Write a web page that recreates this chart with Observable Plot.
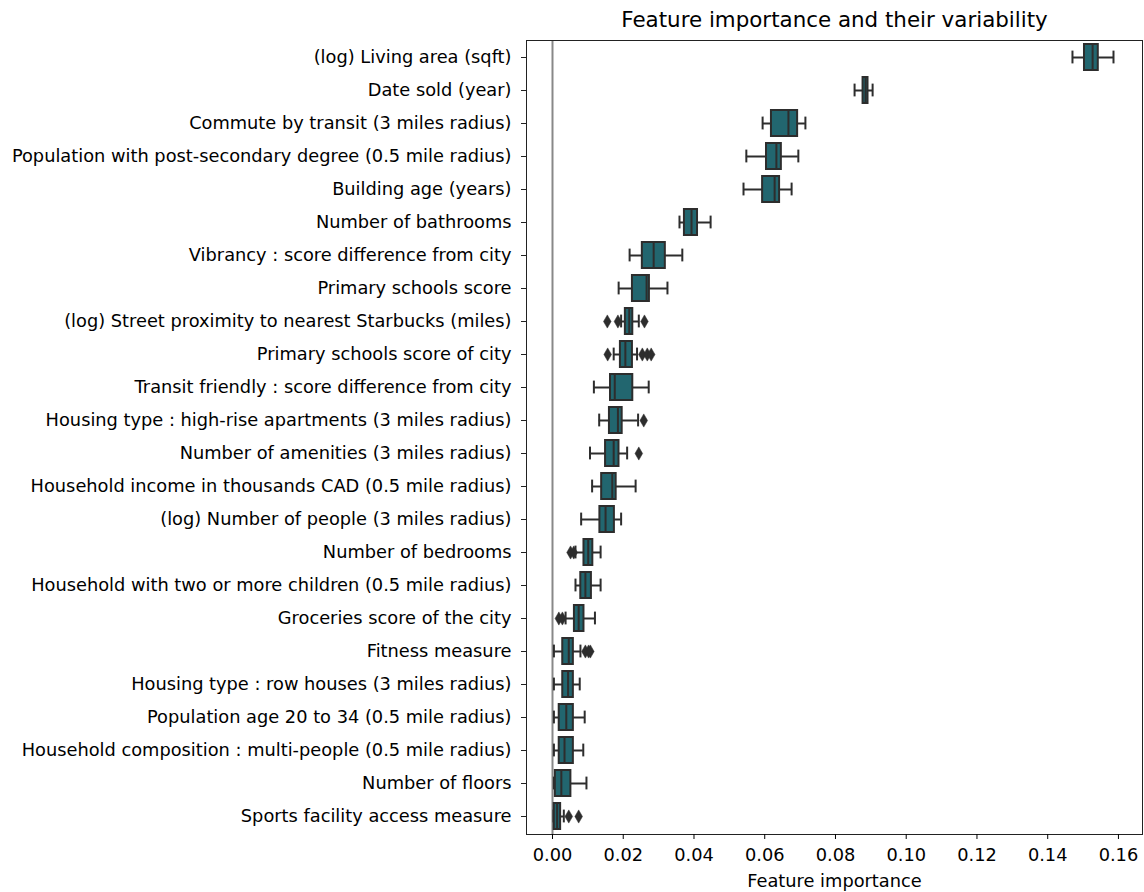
<!DOCTYPE html>
<html>
<head>
<meta charset="utf-8">
<script src="https://cdn.jsdelivr.net/npm/d3@7"></script>
<script src="https://cdn.jsdelivr.net/npm/@observablehq/plot@0.6"></script>
<style>
  html, body { margin: 0; padding: 0; background: #fff; }
</style>
</head>
<body>
<div id="chart"></div>
<script>
const title = "Feature importance and their variability";
const xLabel = "Feature importance";
const xTicks = [0, 0.02, 0.04, 0.06, 0.08, 0.10, 0.12, 0.14, 0.16];

const features = [
  "(log) Living area (sqft)",
  "Date sold (year)",
  "Commute by transit (3 miles radius)",
  "Population with post-secondary degree (0.5 mile radius)",
  "Building age (years)",
  "Number of bathrooms",
  "Vibrancy : score difference from city",
  "Primary schools score",
  "(log) Street proximity to nearest Starbucks (miles)",
  "Primary schools score of city",
  "Transit friendly : score difference from city",
  "Housing type : high-rise apartments (3 miles radius)",
  "Number of amenities (3 miles radius)",
  "Household income in thousands CAD (0.5 mile radius)",
  "(log) Number of people (3 miles radius)",
  "Number of bedrooms",
  "Household with two or more children (0.5 mile radius)",
  "Groceries score of the city",
  "Fitness measure",
  "Housing type : row houses (3 miles radius)",
  "Population age 20 to 34 (0.5 mile radius)",
  "Household composition : multi-people (0.5 mile radius)",
  "Number of floors",
  "Sports facility access measure"
];

const whiskerLow  = [0.1470, 0.0854, 0.0594, 0.0548, 0.0540, 0.0359, 0.0218, 0.0187, 0.0194, 0.0173, 0.0117, 0.0132, 0.0106, 0.0112, 0.0081, 0.0065, 0.0065, 0.0037, 0.0004, 0.0004, 0.0004, 0.0004, 0.0004, 0.0003];
const q1          = [0.1504, 0.0878, 0.0619, 0.0605, 0.0594, 0.0373, 0.0254, 0.0226, 0.0206, 0.0192, 0.0164, 0.0161, 0.0150, 0.0139, 0.0134, 0.0089, 0.0080, 0.0062, 0.0029, 0.0029, 0.0019, 0.0019, 0.0008, 0.0005];
const median      = [0.1527, 0.0885, 0.0667, 0.0633, 0.0628, 0.0393, 0.0286, 0.0266, 0.0217, 0.0206, 0.0176, 0.0185, 0.0173, 0.0169, 0.0150, 0.0101, 0.0093, 0.0074, 0.0046, 0.0044, 0.0039, 0.0034, 0.0025, 0.0013];
const q3          = [0.1543, 0.0892, 0.0693, 0.0647, 0.0642, 0.0410, 0.0319, 0.0274, 0.0227, 0.0226, 0.0227, 0.0197, 0.0188, 0.0180, 0.0175, 0.0114, 0.0110, 0.0089, 0.0059, 0.0059, 0.0059, 0.0059, 0.0052, 0.0023];
const whiskerHigh = [0.1586, 0.0905, 0.0715, 0.0695, 0.0676, 0.0447, 0.0367, 0.0325, 0.0244, 0.0239, 0.0272, 0.0242, 0.0211, 0.0235, 0.0194, 0.0136, 0.0136, 0.0120, 0.0079, 0.0077, 0.0091, 0.0087, 0.0096, 0.0032];
const outliers = [
  [], [], [], [], [], [], [], [],
  [0.0155, 0.0185, 0.0260],
  [0.0156, 0.0254, 0.0268, 0.0279],
  [],
  [0.0258],
  [0.0244],
  [], [],
  [0.0051, 0.0060],
  [],
  [0.0018, 0.0028],
  [0.0093, 0.0102, 0.0107],
  [], [], [], [],
  [0.0046, 0.0074]
];

const boxes = features.map((f, i) => ({
  name: f, lo: whiskerLow[i], q1: q1[i], med: median[i], q3: q3[i], hi: whiskerHigh[i]
}));
const fliers = features.flatMap((f, i) => outliers[i].map(v => ({name: f, value: v})));

const fill = "#22666f";
const edge = "#2d2d2d";
const lw = 2;
const capInset = 6.6;

const chart = Plot.plot({
  width: 1144,
  height: 892,
  marginLeft: 526,
  marginRight: 2,
  marginTop: 40,
  marginBottom: 58,
  style: {fontFamily: "DejaVu Sans", fontSize: "17.8px", background: "#fff", color: "#000"},
  x: {domain: [-0.00735, 0.1668]},
  y: {domain: features, paddingInner: 0.2, paddingOuter: 0.1},
  marks: [
    Plot.ruleX([0], {stroke: "#888", strokeWidth: 2}),
    Plot.ruleY(boxes, {y: "name", x1: "lo", x2: "q1", stroke: edge, strokeWidth: lw}),
    Plot.ruleY(boxes, {y: "name", x1: "q3", x2: "hi", stroke: edge, strokeWidth: lw}),
    Plot.tickX(boxes, {y: "name", x: "lo", stroke: edge, strokeWidth: lw, insetTop: capInset, insetBottom: capInset}),
    Plot.tickX(boxes, {y: "name", x: "hi", stroke: edge, strokeWidth: lw, insetTop: capInset, insetBottom: capInset}),
    Plot.barX(boxes, {y: "name", x1: "q1", x2: "q3", fill: fill, stroke: edge, strokeWidth: lw}),
    Plot.tickX(boxes, {y: "name", x: "med", stroke: edge, strokeWidth: lw}),
    Plot.dot(fliers, {y: "name", x: "value", symbol: "diamond", r: 4, fill: edge, stroke: edge, strokeWidth: 0.5}),
    Plot.frame({stroke: "#222", strokeWidth: 1}),
    Plot.axisY({tickSize: 5, tickPadding: 10, fontSize: 17.8, label: null, stroke: "#222"}),
    Plot.axisX({
      ticks: xTicks, tickFormat: d3.format(".2f"), tickSize: 5, tickPadding: 9, fontSize: 17.8,
      label: xLabel, labelAnchor: "center", labelArrow: "none", labelOffset: 52
    }),
    Plot.text([title], {frameAnchor: "top", dy: -20, fontSize: 21.4, lineAnchor: "middle", textAnchor: "middle"})
  ]
});
document.getElementById("chart").appendChild(chart);
</script>
</body>
</html>
